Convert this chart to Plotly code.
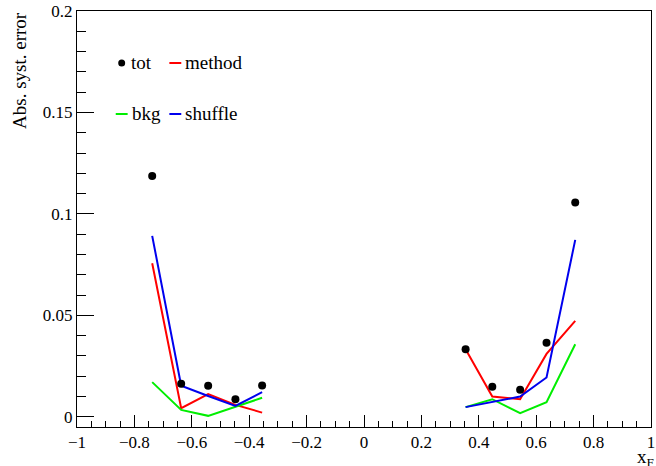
import plotly.graph_objects as go

x_left = [-0.738, -0.637, -0.543, -0.448, -0.355]
x_right = [0.354, 0.447, 0.544, 0.636, 0.736]

tot_left = [0.1187, 0.0163, 0.0153, 0.0087, 0.0154]
tot_right = [0.0333, 0.0148, 0.0133, 0.0365, 0.1056]

method_left = [0.0757, 0.0043, 0.0112, 0.0059, 0.0021]
method_right = [0.0333, 0.0100, 0.0087, 0.0310, 0.0473]

bkg_left = [0.0171, 0.0034, 0.0005, 0.0048, 0.0094]
bkg_right = [0.0048, 0.0087, 0.0018, 0.0072, 0.0358]

shuffle_left = [0.0892, 0.0153, 0.0103, 0.0054, 0.0122]
shuffle_right = [0.0048, 0.0072, 0.0100, 0.0194, 0.0872]

FONT = "Liberation Serif, Times New Roman, serif"
COLORS = {"method": "#ff0000", "bkg": "#00ee00", "shuffle": "#0000ee"}

# plot area in pixels
L, T, W, H = 77, 11, 578, 416
def px(x):
    return (x - L) / W
def py(y):
    return (T + H - y) / H

fig = go.Figure()

def add_lines(name, yl, yr):
    for xs, ys in ((x_left, yl), (x_right, yr)):
        fig.add_trace(go.Scatter(x=xs, y=ys, mode="lines",
                                 line=dict(color=COLORS[name], width=2),
                                 name=name, showlegend=False, legendgroup=name))

add_lines("method", method_left, method_right)
add_lines("bkg", bkg_left, bkg_right)
add_lines("shuffle", shuffle_left, shuffle_right)

fig.add_trace(go.Scatter(x=x_left + x_right, y=tot_left + tot_right, mode="markers",
                         marker=dict(color="black", size=8), name="tot", showlegend=False))

fig.update_layout(
    width=656, height=466,
    margin=dict(l=L, r=656 - L - W, t=T, b=466 - T - H),
    paper_bgcolor="white", plot_bgcolor="white",
    font=dict(family=FONT, size=16, color="black"),
    showlegend=False,
    xaxis=dict(range=[-1, 1], dtick=0.2, tick0=0, ticks="inside", ticklen=12, tickwidth=1,
               tickcolor="black", showline=True, linecolor="black", linewidth=1, mirror=True,
               showgrid=False, zeroline=False, tickfont=dict(family=FONT, size=17),
               ticklabeloverflow="allow",
               minor=dict(dtick=0.05, ticks="inside", ticklen=6, tickcolor="black", showgrid=False)),
    yaxis=dict(range=[-0.005, 0.2], dtick=0.05, tick0=0, ticks="inside", ticklen=17, tickwidth=1,
               tickcolor="black", showline=True, linecolor="black", linewidth=1, mirror=True,
               showgrid=False, zeroline=False, tickfont=dict(family=FONT, size=17),
               ticklabeloverflow="allow",
               minor=dict(dtick=0.01, ticks="inside", ticklen=9, tickcolor="black", showgrid=False)),
)

# axis titles
fig.add_annotation(text="Abs. syst. error", xref="paper", yref="paper", x=px(19), y=py(10),
                   xanchor="center", yanchor="top", textangle=-90, showarrow=False,
                   font=dict(family=FONT, size=19))
fig.add_annotation(text="x<sub>F</sub>", xref="paper", yref="paper", x=px(660), y=py(444),
                   xanchor="right", yanchor="top", showarrow=False,
                   font=dict(family=FONT, size=19))

# legend (two rows: tot/method, bkg/shuffle)
legend_items = [
    ("tot", "marker", 122, 63),
    ("method", "line", 170, 63),
    ("bkg", "line", 116, 114),
    ("shuffle", "line", 170, 114),
]
for name, kind, x0, y0 in legend_items:
    if kind == "marker":
        fig.add_shape(type="circle", xref="paper", yref="paper",
                      x0=px(x0 - 3.5), x1=px(x0 + 3.5), y0=py(y0 - 3.5), y1=py(y0 + 3.5),
                      fillcolor="black", line=dict(width=0))
        tx = x0 + 7
    else:
        fig.add_shape(type="line", xref="paper", yref="paper",
                      x0=px(x0), x1=px(x0 + 12), y0=py(y0), y1=py(y0),
                      line=dict(color=COLORS[name], width=2))
        tx = x0 + 14
    fig.add_annotation(text=name, xref="paper", yref="paper", x=px(tx), y=py(y0 - 1),
                       xanchor="left", yanchor="middle", showarrow=False,
                       font=dict(family=FONT, size=19))

fig.write_html("out.html")
